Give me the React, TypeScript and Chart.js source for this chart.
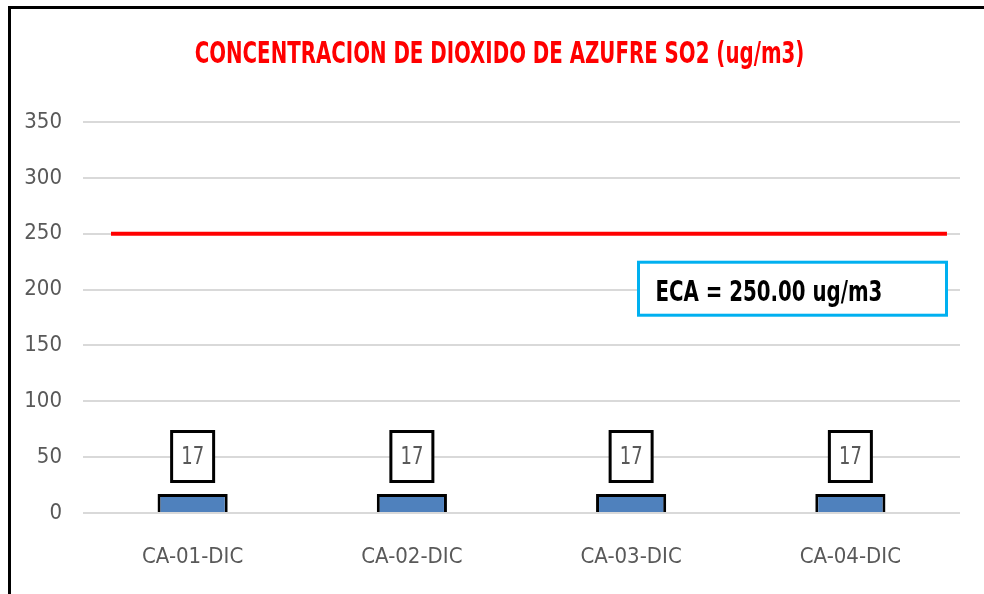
import React, { useEffect, useRef } from "react";
import { Chart, registerables } from "chart.js";

Chart.register(...registerables);

const TITLE = "CONCENTRACION DE DIOXIDO DE AZUFRE SO2 (ug/m3)";
const CATEGORIES = ["CA-01-DIC", "CA-02-DIC", "CA-03-DIC", "CA-04-DIC"];
const SO2_VALUES = [17, 17, 17, 17];
const ECA_LIMIT = 250;
const ECA_LINE_X = [0, 1];
const ECA_LABEL = "ECA = 250.00 ug/m3";
const Y_MIN = 0;
const Y_MAX = 350;
const Y_STEP = 50;

const NARROW = "'Liberation Sans Narrow', 'DejaVu Sans Condensed', 'Arial Narrow', sans-serif";
const GRAY = "#595959";

function drawStretched(ctx: any, text: string, x: number, y: number, sy: number) {
  ctx.save();
  ctx.translate(x, y);
  ctx.scale(1, sy);
  ctx.fillText(text, 0, 0);
  ctx.restore();
}

const titlePlugin = {
  id: "titlePlugin",
  afterDraw(chart: any) {
    const ctx = chart.ctx;
    ctx.save();
    ctx.fillStyle = "#FF0000";
    ctx.font = `bold 22px ${NARROW}`;
    ctx.textAlign = "center";
    ctx.textBaseline = "middle";
    drawStretched(ctx, TITLE, 499.5, 55, 1.4);
    ctx.restore();
  },
};

const boxLabels = {
  id: "boxLabels",
  afterDatasetsDraw(chart: any) {
    const meta = chart.getDatasetMeta(0);
    const ctx = chart.ctx;
    meta.data.forEach((bar: any, i: number) => {
      const { x, y } = bar.getProps(["x", "y"], true);
      const w = 42;
      const h = 50;
      const bottom = y - 12.5;
      ctx.save();
      ctx.fillStyle = "#ffffff";
      ctx.fillRect(x - w / 2, bottom - h, w, h);
      ctx.lineWidth = 3;
      ctx.strokeStyle = "#000000";
      ctx.strokeRect(x - w / 2, bottom - h, w, h);
      ctx.fillStyle = GRAY;
      ctx.font = `20px ${NARROW}`;
      ctx.textAlign = "center";
      ctx.textBaseline = "middle";
      drawStretched(ctx, String(SO2_VALUES[i]), x, bottom - h / 2 + 1, 1.25);
      ctx.restore();
    });
  },
};

const ecaBox = {
  id: "ecaBox",
  afterDraw(chart: any) {
    const ctx = chart.ctx;
    const area = chart.chartArea;
    const yScale = chart.scales.y;
    const left = area.left + 555.5;
    const right = area.right - 13.5;
    const top = yScale.getPixelForValue(ECA_LIMIT) + 28.5;
    const height = 53;
    ctx.save();
    ctx.fillStyle = "#ffffff";
    ctx.fillRect(left, top, right - left, height);
    ctx.lineWidth = 3;
    ctx.strokeStyle = "#00B0F0";
    ctx.strokeRect(left, top, right - left, height);
    ctx.fillStyle = "#000000";
    ctx.font = `bold 22px ${NARROW}`;
    ctx.textAlign = "left";
    ctx.textBaseline = "middle";
    drawStretched(ctx, ECA_LABEL, left + 17, top + 32, 1.25);
    ctx.restore();
  },
};

export default function App() {
  const canvasRef = useRef<HTMLCanvasElement | null>(null);

  useEffect(() => {
    document.body.style.margin = "0";
    const canvas = canvasRef.current;
    if (!canvas) return;
    const chart = new Chart(canvas, {
      type: "bar",
      data: {
        labels: CATEGORIES,
        datasets: [
          {
            type: "bar",
            label: "SO2",
            data: SO2_VALUES,
            backgroundColor: "#4F81BD",
            borderColor: "#000000",
            borderWidth: 3,
            borderSkipped: "bottom",
            barPercentage: 0.32,
            categoryPercentage: 1,
            grouped: false,
            xAxisID: "x",
            yAxisID: "y",
            order: 2,
          } as any,
          {
            type: "line",
            label: "ECA",
            data: ECA_LINE_X.map((x) => ({ x, y: ECA_LIMIT })),
            borderColor: "#FF0000",
            borderWidth: 4,
            pointRadius: 0,
            fill: false,
            xAxisID: "x2",
            yAxisID: "y",
            order: 1,
          } as any,
        ],
      },
      options: {
        animation: false,
        responsive: true,
        maintainAspectRatio: false,
        layout: { padding: { left: 0, right: 24, top: 122, bottom: 0 } },
        plugins: {
          legend: { display: false },
          tooltip: { enabled: false },
          title: { display: false },
        },
        scales: {
          x: {
            type: "category",
            grid: { display: false },
            border: { display: false },
            ticks: {
              color: GRAY,
              font: { family: NARROW, size: 22 },
              padding: 23,
              maxRotation: 0,
              autoSkip: false,
            },
            afterFit: (scale: any) => {
              scale.height = 81;
            },
          },
          x2: {
            type: "linear",
            display: false,
            offset: false,
            grace: 0,
            min: -0.0335,
            max: 1.0156,
          },
          y: {
            min: Y_MIN,
            max: Y_MAX,
            grid: { color: "#D9D9D9", lineWidth: 2, drawTicks: false },
            border: { display: false },
            ticks: {
              stepSize: Y_STEP,
              color: GRAY,
              font: { family: NARROW, size: 22 },
              padding: 21,
            },
            afterFit: (scale: any) => {
              scale.width = 83;
            },
          },
        },
      },
      plugins: [boxLabels, ecaBox, titlePlugin],
    });
    return () => chart.destroy();
  }, []);

  return (
    <div style={{ position: "relative", width: 984, height: 594, overflow: "hidden", background: "#ffffff" }}>
      <div
        style={{
          position: "absolute",
          left: 8,
          top: 6,
          width: 1000,
          height: 620,
          border: "3px solid #000000",
          boxSizing: "border-box",
        }}
      />
      <canvas ref={canvasRef} style={{ position: "absolute", left: 0, top: 0, width: 984, height: 594 }} />
    </div>
  );
}
